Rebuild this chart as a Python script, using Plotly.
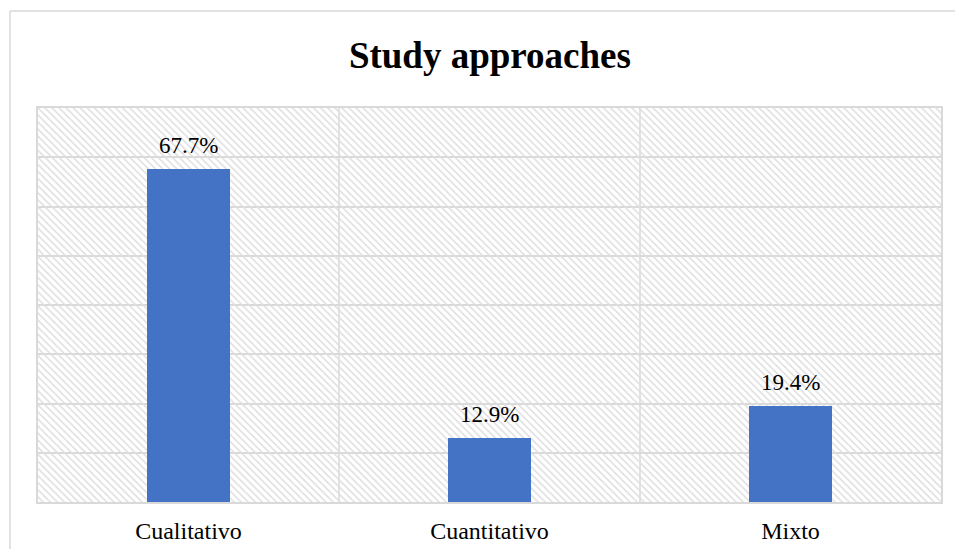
import plotly.graph_objects as go

# Chart data
categories = ["Cualitativo", "Cuantitativo", "Mixto"]
shares = [0.677, 0.129, 0.194]
labels = ["67.7%", "12.9%", "19.4%"]

# Axis scale
y_max = 0.8
y_step = 0.1

W, H = 955, 549
M_L, M_R, M_T, M_B = 38, 14, 108, 47
GRID = "#d9d9d9"
HATCH = "#dedede"
BAR = "#4472c4"
FONT = "Liberation Serif, Times New Roman, serif"

fig = go.Figure()

# Hatched plot-area backdrop: one full-height cell per category, transparent
# between the hatch strokes so the grid shows through.
fig.add_trace(go.Bar(
    x=categories,
    y=[y_max] * len(categories),
    width=1.0,
    marker=dict(
        color="rgba(0,0,0,0)",
        line=dict(width=0),
        pattern=dict(shape="\\", size=5, solidity=0.3,
                     fgcolor=HATCH, bgcolor="rgba(0,0,0,0)",
                     fillmode="replace"),
    ),
    hoverinfo="skip",
    showlegend=False,
))

# Value bars
fig.add_trace(go.Bar(
    x=categories,
    y=shares,
    width=0.273,
    marker=dict(color=BAR, line=dict(width=0)),
    showlegend=False,
))

# Value labels above each bar
for cat, val, lab in zip(categories, shares, labels):
    fig.add_annotation(
        x=cat, y=val, text=lab, showarrow=False,
        xref="x", yref="y", yanchor="bottom", yshift=9,
        font=dict(family=FONT, size=23, color="#000000"),
    )

# Vertical separators between categories
for i in range(1, len(categories)):
    fig.add_shape(
        type="line", xref="x", yref="paper",
        x0=i - 0.5, x1=i - 0.5, y0=0, y1=1,
        line=dict(color=GRID, width=1.5), layer="below",
    )

# Outer chart border (left and top edges)
px = lambda v: v / (W - M_L - M_R)
py = lambda v: v / (H - M_T - M_B)
fig.add_shape(
    type="line", xref="paper", yref="paper",
    x0=px(10 - M_L), x1=px(10 - M_L), y0=py(-M_B - 5), y1=1 + py(M_T - 11),
    line=dict(color=GRID, width=1.5), layer="below",
)
fig.add_shape(
    type="line", xref="paper", yref="paper",
    x0=px(10 - M_L), x1=1 + px(M_R + 5), y0=1 + py(M_T - 11), y1=1 + py(M_T - 11),
    line=dict(color=GRID, width=1.5), layer="below",
)

fig.update_layout(
    width=W, height=H,
    margin=dict(l=M_L, r=M_R, t=M_T, b=M_B, pad=0, autoexpand=False),
    paper_bgcolor="white",
    plot_bgcolor="white",
    barmode="overlay",
    bargap=0,
    title=dict(
        text="<b>Study approaches</b>",
        x=0.513, xanchor="center",
        y=1 - 55 / H, yanchor="middle", yref="container",
        font=dict(family=FONT, size=37, color="#000000"),
    ),
    xaxis=dict(
        range=[-0.5, len(categories) - 0.5],
        showgrid=False, automargin=False,
        showline=True, mirror=True, linecolor=GRID, linewidth=1.5,
        ticks="", ticklabelstandoff=6,
        tickfont=dict(family=FONT, size=24, color="#000000"),
        fixedrange=True,
    ),
    yaxis=dict(
        range=[0, y_max], dtick=y_step, automargin=False,
        showgrid=True, gridcolor=GRID, gridwidth=1.5,
        showline=True, mirror=True, linecolor=GRID, linewidth=1.5,
        showticklabels=False, ticks="", zeroline=False,
        fixedrange=True,
    ),
    font=dict(family=FONT),
)

fig.write_html("out.html")
